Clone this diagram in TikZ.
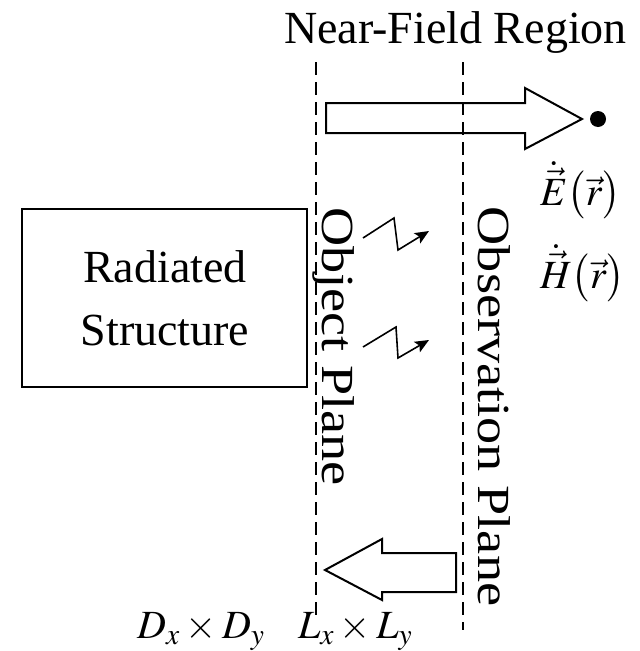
\documentclass[tikz,border=0pt]{standalone}
\usepackage{mathptmx}
\usepackage[no-math]{fontspec}
\setmainfont{Liberation Serif}
\usetikzlibrary{arrows.meta}
\begin{document}
\begin{tikzpicture}[x=1pt,y=-1pt,
  big/.style={font=\fontsize{46}{55}\selectfont, inner sep=0pt},
  mathlbl/.style={font=\fontsize{40}{48}\selectfont, inner sep=0pt},
  plane/.style={line width=1.7pt, dash pattern=on 13pt off 7pt},
  outl/.style={line width=2pt, line join=miter},
  bolt/.style={line width=1.6pt, -{Stealth[length=14pt,width=12pt,inset=3pt]}}]
\useasboundingbox (0,0) rectangle (640,651);
% title
\node[big, anchor=base] (title) at (455.5,43) {Near-Field Region};
% planes
\coordinate (p1t) at (316,62); \coordinate (p1b) at (316,615);
\coordinate (p2t) at (463,62); \coordinate (p2b) at (463,630);
\draw[plane] (p1t) -- (p1b);
\draw[plane] (p2t) -- (p2b);
% radiated structure
\node[draw, line width=2pt, minimum width=285pt, minimum height=178pt, inner sep=0pt] (rs) at (164.5,298) {};
\node[big, anchor=base] (rs1) at (165,282) {Radiated};
\node[big, anchor=base] (rs2) at (165,345) {Structure};
% plane labels
\node[big, rotate=-90, anchor=base] (op) at (322,346.5) {\scalebox{1.18}[1]{Object Plane}};
\node[big, rotate=-90, anchor=base] (obs) at (478,406.5) {\scalebox{1.18}[1]{Observation Plane}};
% right arrow
\draw[outl] (326,103) -- (525,103) -- (525,88) -- (582,119) -- (525,149) -- (525,133) -- (326,133) -- cycle;
\node[circle, fill, minimum size=16pt, inner sep=0pt] (pt) at (598,119) {};
% left arrow
\draw[outl] (456,553) -- (382,553) -- (382,539) -- (325,570) -- (382,600) -- (382,592) -- (456,592) -- cycle;
% bolts
\coordinate (a1) at (363,238); \coordinate (a2) at (394,218); \coordinate (a3) at (398,250); \coordinate (a4) at (429,231);
\draw[bolt] (a1) -- (a2) -- (a3) -- (a4);
\coordinate (b1) at (363,347); \coordinate (b2) at (396,327); \coordinate (b3) at (398,358); \coordinate (b4) at (429,340);
\draw[bolt] (b1) -- (b2) -- (b3) -- (b4);
% field labels
\node[mathlbl, anchor=base west] (E) at (540,205) {$\dot{\vec{E}}\mathopen{}\bigl(\vec{r}\bigr)$};
\node[mathlbl, anchor=base west] (H) at (540,288) {$\dot{\vec{H}}\mathopen{}\bigl(\vec{r}\bigr)$};
% dimensions
\node[mathlbl, anchor=base west] (D) at (137,638) {$D_x\times D_y$};
\node[mathlbl, anchor=base west] (L) at (298,638) {$L_x\times L_y$};
\end{tikzpicture}
\end{document}
